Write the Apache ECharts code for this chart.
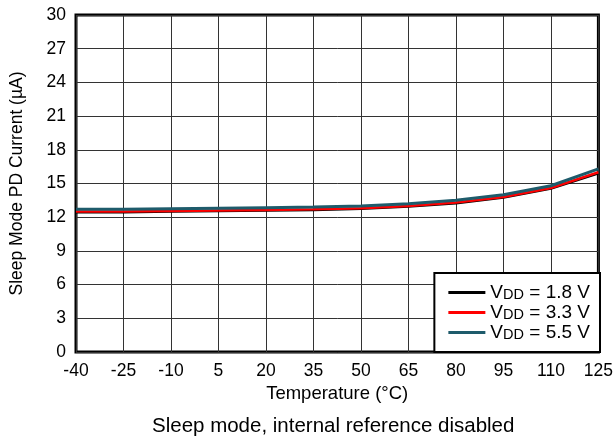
<!DOCTYPE html>
<html><head><meta charset="utf-8">
<script src="https://cdn.jsdelivr.net/npm/echarts@6/dist/echarts.min.js"></script>
<style>html,body{margin:0;padding:0;background:#fff}#c{width:616px;height:438px}</style>
</head><body><div id="c"></div>
<script>
const temps = ['-40','-25','-10','5','20','35','50','65','80','95','110','125'];
const vdd18 = [12.45,12.45,12.5,12.55,12.6,12.65,12.75,12.95,13.25,13.75,14.55,15.9];
const vdd33 = [12.5,12.5,12.55,12.6,12.65,12.7,12.8,13.0,13.3,13.8,14.6,16.0];
const vdd55 = [12.7,12.7,12.75,12.8,12.85,12.9,13.0,13.2,13.5,14.0,14.8,16.3];
const seriesNames = ['1.8','3.3','5.5'];
const colors = ['#000000','#ff0000','#1e5b6b'];
const font = 'Liberation Sans, Arial, sans-serif';
const chart = echarts.init(document.getElementById('c'));
chart.setOption({
  animation:false,
  grid:{left:76,right:16,top:15,bottom:86,show:true,borderColor:'#000',borderWidth:3,containLabel:false},
  title:{text:'Sleep mode, internal reference disabled',left:147,top:411,textStyle:{fontFamily:font,fontSize:20.5,fontWeight:'normal',color:'#000'}},
  xAxis:{type:'category',data:temps,boundaryGap:false,
    name:'Temperature (°C)',nameLocation:'middle',nameGap:30,nameTextStyle:{fontFamily:font,fontSize:18.5,color:'#000'},
    axisLine:{show:false},axisTick:{show:false},
    axisLabel:{fontFamily:font,fontSize:17.5,color:'#000',margin:10,interval:0},
    splitLine:{show:true,lineStyle:{color:'#333',width:1}}},
  yAxis:{type:'value',min:0,max:30,interval:3,
    name:'Sleep Mode PD Current (µA)',nameLocation:'middle',nameGap:50,nameTextStyle:{fontFamily:font,fontSize:17.5,color:'#000'},
    axisLine:{show:false},axisTick:{show:false},
    axisLabel:{fontFamily:font,fontSize:17.5,color:'#000',margin:10},
    splitLine:{show:true,lineStyle:{color:'#333',width:1}}},
  legend:{orient:'vertical',right:16,bottom:86,itemWidth:37,itemHeight:3,itemGap:1,
    padding:[10,10,10,14],
    backgroundColor:'#fff',borderColor:'#000',borderWidth:2,
    icon:'rect',
    data:seriesNames.map(n=>({name:n})),
    formatter:function(n){return '{v|V}{s|DD}{v| = '+n+' V}';},
    textStyle:{fontFamily:font,fontSize:19,color:'#000',
      rich:{v:{fontFamily:font,fontSize:19,color:'#000',lineHeight:19},s:{fontFamily:font,fontSize:14.5,color:'#000',lineHeight:9,verticalAlign:'bottom'}}}},
  series:[vdd18,vdd33,vdd55].map((d,i)=>({name:seriesNames[i],type:'line',data:d,showSymbol:false,symbol:'none',
    lineStyle:{color:colors[i],width:i===2?3:2.5},itemStyle:{color:colors[i]},z:2+i}))
});
</script></body></html>
